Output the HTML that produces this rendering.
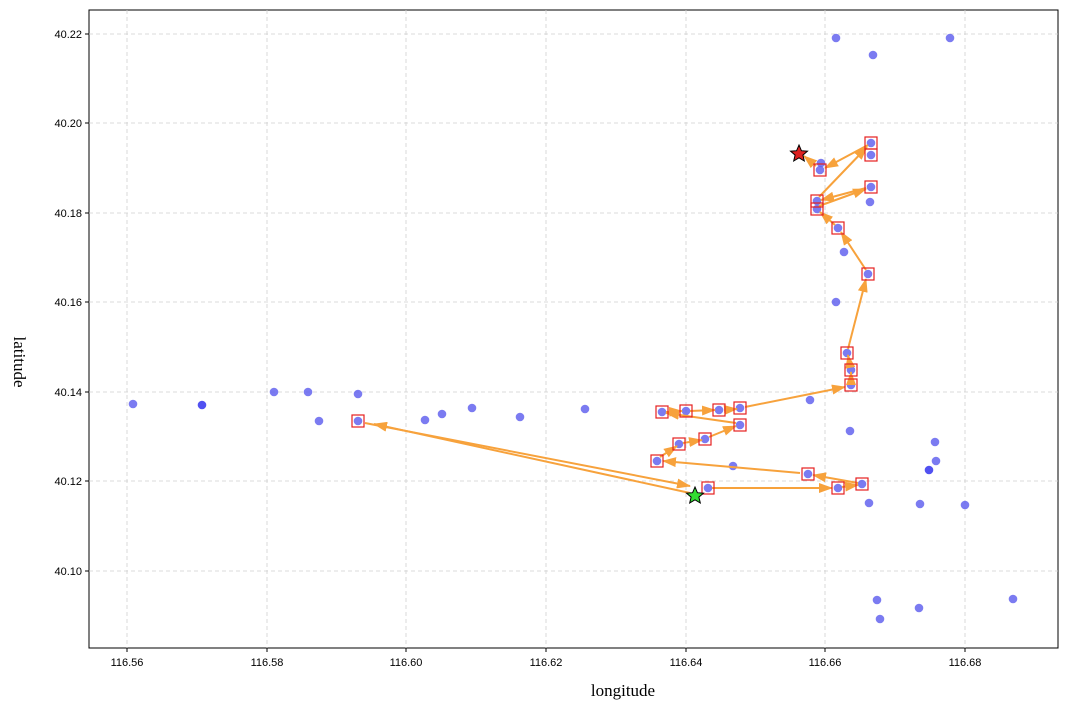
<!DOCTYPE html>
<html><head><style>body{margin:0;background:#fff}svg{display:block}</style></head><body>
<svg width="1067" height="704" xmlns="http://www.w3.org/2000/svg" font-family="Liberation Sans, sans-serif">
<defs><marker id="a" markerWidth="14" markerHeight="10" refX="13" refY="5" orient="auto" markerUnits="userSpaceOnUse"><path d="M0,0 L14,5 L0,10 Z" fill="#f7a23c"/></marker></defs>
<rect x="89" y="10" width="969" height="638" fill="#fff" stroke="#000" stroke-width="1"/>
<g stroke="#d0d0d0" stroke-dasharray="4,3" stroke-width="0.8">
<line x1="127" y1="10" x2="127" y2="648"/><line x1="267" y1="10" x2="267" y2="648"/><line x1="406" y1="10" x2="406" y2="648"/><line x1="546" y1="10" x2="546" y2="648"/><line x1="686" y1="10" x2="686" y2="648"/><line x1="825" y1="10" x2="825" y2="648"/><line x1="965" y1="10" x2="965" y2="648"/>
<line x1="89" y1="34" x2="1058" y2="34"/><line x1="89" y1="123" x2="1058" y2="123"/><line x1="89" y1="213" x2="1058" y2="213"/><line x1="89" y1="302" x2="1058" y2="302"/><line x1="89" y1="392" x2="1058" y2="392"/><line x1="89" y1="481" x2="1058" y2="481"/><line x1="89" y1="571" x2="1058" y2="571"/>
</g>
<g stroke="#000" stroke-width="1">
<line x1="127" y1="648" x2="127" y2="652"/><line x1="267" y1="648" x2="267" y2="652"/><line x1="406" y1="648" x2="406" y2="652"/><line x1="546" y1="648" x2="546" y2="652"/><line x1="686" y1="648" x2="686" y2="652"/><line x1="825" y1="648" x2="825" y2="652"/><line x1="965" y1="648" x2="965" y2="652"/>
<line x1="85" y1="34" x2="89" y2="34"/><line x1="85" y1="123" x2="89" y2="123"/><line x1="85" y1="213" x2="89" y2="213"/><line x1="85" y1="302" x2="89" y2="302"/><line x1="85" y1="392" x2="89" y2="392"/><line x1="85" y1="481" x2="89" y2="481"/><line x1="85" y1="571" x2="89" y2="571"/>
</g>
<g font-size="11" fill="#000" text-anchor="middle">
<text x="127" y="666">116.56</text><text x="267" y="666">116.58</text><text x="406" y="666">116.60</text><text x="546" y="666">116.62</text><text x="686" y="666">116.64</text><text x="825" y="666">116.66</text><text x="965" y="666">116.68</text>
</g>
<g font-size="11" text-anchor="end">
<text x="82" y="38">40.22</text><text x="82" y="127">40.20</text><text x="82" y="217">40.18</text><text x="82" y="306">40.16</text><text x="82" y="396">40.14</text><text x="82" y="485">40.12</text><text x="82" y="575">40.10</text>
</g>
<text x="623" y="696" font-family="Liberation Serif, serif" font-size="17" text-anchor="middle">longitude</text>
<text transform="translate(14,362) rotate(90)" font-family="Liberation Serif, serif" font-size="17" text-anchor="middle">latitude</text>
<g fill="#6464ee" fill-opacity="0.85">
<circle cx="133" cy="404" r="4.3"/><circle cx="202" cy="405" r="4.3" fill="#3333ee"/><circle cx="274" cy="392" r="4.3"/><circle cx="308" cy="392" r="4.3"/><circle cx="358" cy="394" r="4.3"/><circle cx="319" cy="421" r="4.3"/><circle cx="425" cy="420" r="4.3"/><circle cx="442" cy="414" r="4.3"/><circle cx="472" cy="408" r="4.3"/><circle cx="520" cy="417" r="4.3"/><circle cx="585" cy="409" r="4.3"/><circle cx="810" cy="400" r="4.3"/><circle cx="850" cy="431" r="4.3"/><circle cx="836" cy="302" r="4.3"/><circle cx="844" cy="252" r="4.3"/><circle cx="870" cy="202" r="4.3"/><circle cx="821" cy="163" r="4.3"/><circle cx="836" cy="38" r="4.3"/><circle cx="873" cy="55" r="4.3"/><circle cx="950" cy="38" r="4.3"/><circle cx="733" cy="466" r="4.3"/><circle cx="935" cy="442" r="4.3"/><circle cx="936" cy="461" r="4.3"/><circle cx="929" cy="470" r="4.3" fill="#3333ee"/><circle cx="869" cy="503" r="4.3"/><circle cx="920" cy="504" r="4.3"/><circle cx="965" cy="505" r="4.3"/><circle cx="877" cy="600" r="4.3"/><circle cx="919" cy="608" r="4.3"/><circle cx="1013" cy="599" r="4.3"/><circle cx="880" cy="619" r="4.3"/>
<circle cx="358" cy="421" r="4.3"/><circle cx="708" cy="488" r="4.3"/><circle cx="838" cy="488" r="4.3"/><circle cx="862" cy="484" r="4.3"/><circle cx="808" cy="474" r="4.3"/><circle cx="657" cy="461" r="4.3"/><circle cx="679" cy="444" r="4.3"/><circle cx="705" cy="439" r="4.3"/><circle cx="740" cy="425" r="4.3"/><circle cx="662" cy="412" r="4.3"/><circle cx="686" cy="411" r="4.3"/><circle cx="719" cy="410" r="4.3"/><circle cx="740" cy="408" r="4.3"/><circle cx="851" cy="385" r="4.3"/><circle cx="851" cy="370" r="4.3"/><circle cx="847" cy="353" r="4.3"/><circle cx="868" cy="274" r="4.3"/><circle cx="838" cy="228" r="4.3"/><circle cx="817" cy="209" r="4.3"/><circle cx="817" cy="201" r="4.3"/><circle cx="871" cy="187" r="4.3"/><circle cx="871" cy="155" r="4.3"/><circle cx="871" cy="143" r="4.3"/><circle cx="820" cy="170" r="4.3"/>
</g>
<g stroke="#f7a23c" stroke-width="2" fill="none" marker-end="url(#a)">
<line x1="690" y1="493" x2="374" y2="424"/>
<line x1="365" y1="423" x2="690" y2="486"/>
<line x1="712" y1="488" x2="832" y2="488"/>
<line x1="842" y1="487" x2="858" y2="485"/>
<line x1="858" y1="483" x2="813" y2="475"/>
<line x1="800" y1="473" x2="663" y2="461"/>
<line x1="660" y1="457" x2="677" y2="446"/>
<line x1="683" y1="443" x2="702" y2="440"/>
<line x1="709" y1="437" x2="736" y2="426"/>
<line x1="736" y1="423" x2="666" y2="413"/>
<line x1="666" y1="412" x2="682" y2="411"/>
<line x1="690" y1="411" x2="715" y2="410"/>
<line x1="724" y1="410" x2="737" y2="409"/>
<line x1="745" y1="407" x2="845" y2="387"/>
<line x1="851" y1="381" x2="851" y2="372"/>
<line x1="850" y1="366" x2="848" y2="355"/>
<line x1="848" y1="349" x2="866" y2="279"/>
<line x1="866" y1="270" x2="841" y2="232"/>
<line x1="835" y1="225" x2="820" y2="212"/>
<line x1="819" y1="206" x2="866" y2="189"/>
<line x1="866" y1="188" x2="821" y2="200"/>
<line x1="819" y1="197" x2="867" y2="147"/>
<line x1="868" y1="145" x2="825" y2="168"/>
<line x1="816" y1="166" x2="804" y2="156"/>
</g>
<g fill="none" stroke="#e52020" stroke-width="1.2">
<rect x="352" y="415" width="12" height="12"/><rect x="702" y="482" width="12" height="12"/><rect x="832" y="482" width="12" height="12"/><rect x="856" y="478" width="12" height="12"/><rect x="802" y="468" width="12" height="12"/><rect x="651" y="455" width="12" height="12"/><rect x="673" y="438" width="12" height="12"/><rect x="699" y="433" width="12" height="12"/><rect x="734" y="419" width="12" height="12"/><rect x="656" y="406" width="12" height="12"/><rect x="680" y="405" width="12" height="12"/><rect x="713" y="404" width="12" height="12"/><rect x="734" y="402" width="12" height="12"/><rect x="845" y="379" width="12" height="12"/><rect x="845" y="364" width="12" height="12"/><rect x="841" y="347" width="12" height="12"/><rect x="862" y="268" width="12" height="12"/><rect x="832" y="222" width="12" height="12"/><rect x="811" y="203" width="12" height="12"/><rect x="811" y="195" width="12" height="12"/><rect x="865" y="181" width="12" height="12"/><rect x="865" y="149" width="12" height="12"/><rect x="865" y="137" width="12" height="12"/><rect x="814" y="164" width="12" height="12"/>
</g>
<polygon points="695,487 697.4,492.7 703.5,493.2 698.9,497.1 700.3,503 695,499.8 689.7,503 691.1,497.1 686.5,493.2 692.6,492.7" fill="#33dd33" stroke="#000" stroke-width="1"/>
<polygon points="799,145 801.4,150.7 807.5,151.2 802.9,155.1 804.3,161 799,157.8 793.7,161 795.1,155.1 790.5,151.2 796.6,150.7" fill="#dd2222" stroke="#000" stroke-width="1"/>
</svg>
</body></html>
